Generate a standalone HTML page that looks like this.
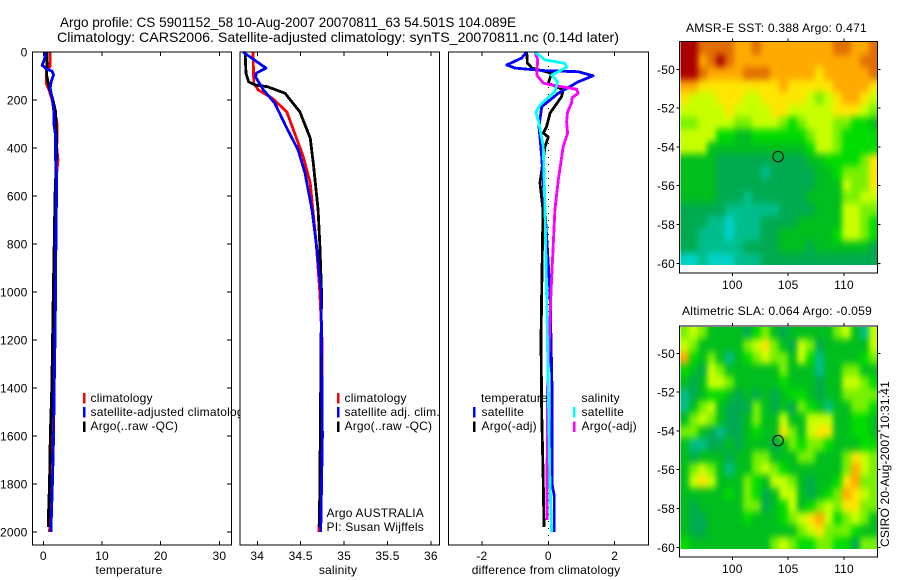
<!DOCTYPE html>
<html lang="en">
<head>
<meta charset="utf-8">
<title>Argo profile</title>
<style>
html,body{margin:0;padding:0;background:#fff}
svg{display:block}
text{font-family:"Liberation Sans",sans-serif;font-size:12px;fill:#000;letter-spacing:.2px}
.title{font-size:14px;letter-spacing:0}
</style>
</head>
<body>
<svg id="chart" xmlns="http://www.w3.org/2000/svg" width="900" height="580" viewBox="0 0 900 580">
<defs>
<filter id="smooth" filterUnits="userSpaceOnUse" x="640" y="0" width="260" height="580" color-interpolation-filters="sRGB">
<feGaussianBlur stdDeviation="2.6 3.6"/>
</filter>
<clipPath id="clip-map-sst"><rect x="680.5" y="42" width="197" height="223"/></clipPath>
<clipPath id="clip-map-sla"><rect x="680.5" y="327" width="197" height="222"/></clipPath>
</defs>
<rect x="0" y="0" width="900" height="580" fill="#fff"/>
<text class="title" x="60" y="27" textLength="456" lengthAdjust="spacingAndGlyphs">Argo profile: CS 5901152_58 10-Aug-2007 20070811_63 54.501S 104.089E</text>
<text class="title" x="57" y="42" textLength="562" lengthAdjust="spacingAndGlyphs">Climatology: CARS2006. Satellite-adjusted climatology: synTS_20070811.nc (0.14d later)</text>
<g id="layer"></g>
<text x="686" y="32" textLength="181" lengthAdjust="spacingAndGlyphs">AMSR-E SST: 0.388 Argo: 0.471</text>
<text x="682" y="315" textLength="190" lengthAdjust="spacingAndGlyphs">Altimetric SLA: 0.064 Argo: -0.059</text>
<text transform="translate(889,547) rotate(-90)" textLength="166" lengthAdjust="spacingAndGlyphs">CSIRO 20-Aug-2007 10:31:41</text>
</svg>
<script>
// ---------- profile data ----------
var tempClimDepth = [0,60,80,130,160,200,250,300,400,450,500,600,800,1000,1400,1600,1800,2000];
var tempClimValue = [1.2,1.15,0.5,0.5,1,1.5,2,2.35,2.3,2.5,2.3,2.25,2.15,2,1.75,1.65,1.5,1.05];
var tempSatDepth = [0,30,55,70,80,95,120,150,190,250,300,350,450,500,600,800,1000,1200,1400,1600,1800,2000];
var tempSatValue = [0.4,0.2,-0.2,0.5,1.5,1.75,1.4,1.15,1.5,1.8,1.8,2.1,2.1,2.25,2.25,2.15,2.1,2,1.85,1.75,1.55,1.3];
var tempArgoDepth = [0,100,150,200,250,300,400,600,800,1000,1400,1600,1800,1950,1980];
var tempArgoValue = [0.65,0.6,1,1.65,2.1,2.2,2.3,2,1.85,1.7,1.45,1.2,1.05,0.85,0.85];

var salClimDepth = [0,130,158,192,249,338,437,546,658,800,1000,1200,1600,2000];
var salClimValue = [33.95,33.96,34.01,34.17,34.34,34.43,34.53,34.61,34.64,34.68,34.72,34.745,34.745,34.71];
var salSatDepth = [0,67,88,104,158,213,317,408,504,658,800,1000,1600,2000];
var salSatValue = [33.835,34.1,33.99,33.98,34.07,34.2,34.34,34.47,34.55,34.63,34.68,34.735,34.75,34.73];
var salArgoDepth = [0,89,124,137,145,172,249,358,463,658,800,1000,1600,1980];
var salArgoValue = [33.86,33.87,33.9,33.97,34.12,34.32,34.49,34.61,34.645,34.7,34.72,34.74,34.726,34.715];

var diffTempSatDepth = [0,25,54,67,78,82,99,124,172,228,311,436,658,1000,1400,1800,1850,2000];
var diffTempSatValue = [-0.65,-0.8,-1.25,-1,-0.1,0.9,1.35,0.9,0.3,-0.2,-0.28,-0.2,-0.1,0.05,0.11,0.11,0.18,0.18];
var diffTempArgoDepth = [0,46,67,88,130,158,186,255,311,338,354,394,546,658,1000,1200,1500,1800,1980];
var diffTempArgoValue = [-0.65,-0.63,-0.49,0.1,0,0.45,0.4,0.05,-0.05,-0.15,0,-0.1,-0.25,-0.16,-0.2,-0.22,-0.2,-0.15,-0.13];
var diffSalSatDepth = [0,33,47,63,82,96,124,165,221,253,283,394,658,1000,1400,1800,2000];
var diffSalSatValue = [-0.4,-0.1,0.5,0.55,0.3,0.1,0.28,0.2,-0.25,-0.38,-0.3,-0.15,-0.1,-0.05,0,0.05,0.1];
var diffSalArgoDepth = [0,33,96,130,145,155,172,190,213,249,290,338,394,533,658,1000,1400,1800,1950];
var diffSalArgoValue = [-0.4,-0.32,-0.35,-0.15,0.4,0.85,0.9,0.72,0.7,0.58,0.55,0.58,0.45,0.3,0.2,0.08,-0.02,-0.04,-0.04];

// ---------- tick labels ----------
var depthTicks = [0,200,400,600,800,1000,1200,1400,1600,1800,2000];
var tempTicks = [0,10,20,30];
var salTicks = [34,34.5,35,35.5,36];
var diffTicks = [-2,0,2];
var lonTicks = [100,105,110];
var latTicks = [-50,-52,-54,-56,-58,-60];

// ---------- map data: colour levels 0 (coldest/lowest) .. 10 (warmest/highest) ----------
var sstLevels = [
[10,10,9,9,9,9,8,8,9,8,8,8,8,8,8,8,8,9,9,8,8,9],
[10,10,8,9,10,9,8,8,8,8,8,8,8,8,8,8,8,8,8,8,9,9],
[10,10,9,8,8,8,8,9,9,9,8,8,8,8,8,7,8,8,8,8,8,9],
[8,8,7,7,7,7,7,7,7,7,7,8,7,7,7,7,7,8,8,8,8,7],
[7,6,6,6,7,7,7,6,6,7,7,7,7,7,6,5,6,7,8,8,7,6],
[6,6,6,6,6,7,6,6,6,6,7,7,6,6,6,6,6,7,7,7,6,5],
[5,5,6,6,6,6,5,5,6,6,6,5,4,5,6,6,6,5,5,4,4,3],
[6,6,6,6,4,4,3,3,4,4,4,4,4,4,5,6,6,5,4,4,4,4],
[6,6,6,3,3,3,3,3,3,3,3,3,3,3,4,6,6,5,4,4,4,4],
[3,3,3,3,2,2,2,2,2,2,2,2,2,2,3,3,4,4,4,4,5,7],
[3,3,3,3,2,2,2,2,2,1,2,2,2,2,2,3,3,4,5,5,5,7],
[3,3,3,3,2,2,2,2,2,2,2,2,2,2,2,3,3,3,6,5,5,7],
[3,3,3,3,2,2,2,1,2,2,2,2,2,2,3,3,3,3,5,5,6,6],
[2,2,2,2,2,1,1,1,1,1,1,2,2,2,2,3,3,3,6,6,5,5],
[2,2,2,1,1,0,1,1,1,2,2,2,2,3,3,3,3,3,6,6,5,4],
[2,2,1,1,1,0,1,1,1,2,2,3,3,3,3,3,3,4,6,6,5,4],
[2,2,1,1,1,1,1,2,2,2,2,3,3,3,2,3,3,3,3,3,3,2],
[0,0,1,0,0,0,1,1,1,2,2,2,2,2,2,2,2,2,2,2,2,2]
];
var slaLevels = [
[5,6,5,3,3,3,3,2,4,5,3,2,3,3,3,3,3,5,6,3,1,6],
[6,5,3,3,3,3,3,5,6,7,5,3,2,6,5,2,3,3,3,3,3,6],
[8,4,3,5,3,1,3,4,5,6,5,5,3,6,4,1,3,3,3,3,4,5],
[4,3,2,6,5,3,3,3,3,3,3,5,3,3,3,1,3,3,5,5,3,3],
[3,2,3,6,6,5,3,3,3,3,3,4,3,3,3,2,3,3,6,6,5,4],
[1,2,3,4,4,3,2,3,2,3,2,3,4,4,3,2,3,3,5,5,5,5],
[1,3,5,6,3,2,2,2,5,3,2,3,2,5,4,3,1,3,3,5,5,4],
[3,5,6,5,3,2,2,3,5,3,3,6,3,3,6,6,6,3,3,4,4,3],
[5,5,3,2,1,2,2,3,4,3,3,7,5,3,6,7,7,3,3,4,4,3],
[3,1,1,2,2,3,2,3,3,3,2,3,5,4,5,5,4,3,3,3,4,4],
[3,2,3,3,3,2,3,3,5,5,3,3,3,5,5,3,3,3,5,7,6,5],
[3,5,6,5,3,1,3,3,5,6,5,4,3,3,3,3,3,3,5,8,6,5],
[3,6,7,6,3,3,3,5,4,3,6,6,5,3,2,3,3,4,7,8,5,5],
[3,3,3,3,3,4,3,5,4,2,3,6,6,3,2,3,4,5,8,7,6,5],
[3,2,3,3,3,3,3,5,5,2,3,4,6,3,4,5,6,5,7,7,5,5],
[3,2,2,3,3,3,3,4,3,3,3,4,5,6,7,8,6,4,5,6,5,3],
[3,2,2,3,3,3,3,3,3,3,3,3,3,5,6,7,5,5,5,4,3,3],
[4,3,3,3,3,3,3,3,3,3,5,6,5,4,4,5,5,4,4,2,5,5]
];
var floatLon = [104.1];
var floatLat = [-54.5];

// ---------- drawing ----------
var NS = 'http://www.w3.org/2000/svg';
var layer = document.getElementById('layer');
var ramp = ['#00d2c8','#00be8c','#00aa50','#00be1e','#00dc00','#78f000','#c8ff00','#ffe600','#ffaa00','#e16e00','#aa0000'];

function make(tag, attrs, parent) {
  var el = document.createElementNS(NS, tag);
  for (var k in attrs) el.setAttribute(k, attrs[k]);
  (parent || layer).appendChild(el);
  return el;
}
function depthY(d) { return 52 + d * 0.24; }

function drawPanel(cfg) {
  var bg = make('rect', {x: cfg.left, y: 52, width: cfg.right - cfg.left, height: 493, fill: '#fff'});
  
  
}

function tickLine(x1, y1, x2, y2, name) {
  var t = make('line', {x1: x1, y1: y1, x2: x2, y2: y2, stroke: '#000', 'stroke-width': 1, 'shape-rendering': 'crispEdges'});
  
  
}
function label(x, y, str, anchor, name) {
  var t = make('text', {x: x, y: y, 'text-anchor': anchor});
  t.textContent = str;
  
  
  return t;
}
function frame(x, y, w, h, name) {
  var f = make('rect', {x: x, y: y, width: w, height: h, fill: 'none', stroke: '#000', 'stroke-width': 1.4, 'shape-rendering': 'crispEdges'});
  
  
}
function series(scale, depths, values, color, name) {
  var pts = depths.map(function (d, i) { return scale(values[i]).toFixed(1) + ',' + depthY(d).toFixed(1); }).join(' ');
  var p = make('polyline', {points: pts, fill: 'none', stroke: color, 'stroke-width': 2.8, 'stroke-linejoin': 'round', 'shape-rendering': 'crispEdges'});
  
  
}
function legendMark(x, y, color, name) {
  var m = make('rect', {x: x, y: y, width: 2.5, height: 10.5, fill: color, 'shape-rendering': 'crispEdges'});
  
  
}

// scales
function xTemp(v) { return 43.3 + v * 5.87; }
function xSal(v) { return 257.3 + (v - 34) * 86.8; }
function xDiff(v) { return 548.3 + v * 33.2; }
function xLon(v) { return 732.3 + (v - 100) * 11.17; }
function ySst(v) { return 69.3 + (-50 - v) * 19.4; }
function ySla(v) { return 353.3 + (-50 - v) * 19.4; }

// Panel 1: temperature
drawPanel({left: 32.5, right: 231.5, name: 'temperature-panel'});
depthTicks.forEach(function (d) {
  tickLine(32.5, depthY(d), 37, depthY(d), 'temperature-depth-tick-left');
  tickLine(227, depthY(d), 231.5, depthY(d), 'temperature-depth-tick-right');
  label(27.5, depthY(d) + 4.5, String(d), 'end', 'depth-tick-label');
});
tempTicks.forEach(function (v) {
  tickLine(xTemp(v), 52, xTemp(v), 56, 'temperature-tick-top');
  tickLine(xTemp(v), 541, xTemp(v), 545, 'temperature-tick-bottom');
  label(xTemp(v), 560, String(v), 'middle', 'temperature-tick-label');
});
series(xTemp, tempClimDepth, tempClimValue, '#ff0000', 'temperature-climatology-line');
series(xTemp, tempArgoDepth, tempArgoValue, '#000000', 'temperature-argo-line');
series(xTemp, tempSatDepth, tempSatValue, '#0000ff', 'temperature-satellite-line');
legendMark(83, 393, '#ff0000', 'temperature-legend-climatology-mark');
legendMark(83, 407, '#0000ff', 'temperature-legend-satellite-mark');
legendMark(83, 421.5, '#000000', 'temperature-legend-argo-mark');
label(90.5, 402, 'climatology', 'start', 'temperature-legend-climatology');
label(90.5, 416, 'satellite-adjusted climatology', 'start', 'temperature-legend-satellite');
label(90.5, 430, 'Argo(..raw -QC)', 'start', 'temperature-legend-argo');
frame(32.5, 52, 199, 493, 'temperature-panel-frame');
label(129, 574, 'temperature', 'middle', 'temperature-axis-title');

// Panel 2: salinity
drawPanel({left: 240, right: 439.5, name: 'salinity-panel'});
salTicks.forEach(function (v) {
  tickLine(xSal(v), 52, xSal(v), 56, 'salinity-tick-top');
  tickLine(xSal(v), 541, xSal(v), 545, 'salinity-tick-bottom');
  label(xSal(v), 560, String(v), 'middle', 'salinity-tick-label');
});
series(xSal, salClimDepth, salClimValue, '#ff0000', 'salinity-climatology-line');
series(xSal, salArgoDepth, salArgoValue, '#000000', 'salinity-argo-line');
series(xSal, salSatDepth, salSatValue, '#0000ff', 'salinity-satellite-line');
legendMark(337, 393, '#ff0000', 'salinity-legend-climatology-mark');
legendMark(337, 407, '#0000ff', 'salinity-legend-satellite-mark');
legendMark(337, 421.5, '#000000', 'salinity-legend-argo-mark');
label(344.5, 402, 'climatology', 'start', 'salinity-legend-climatology');
label(344.5, 416, 'satellite adj. clim.', 'start', 'salinity-legend-satellite');
label(344.5, 430, 'Argo(..raw -QC)', 'start', 'salinity-legend-argo');
label(326.5, 517, 'Argo AUSTRALIA', 'start', 'argo-program-label');
label(326.5, 531, 'PI: Susan Wijffels', 'start', 'principal-investigator-label');
frame(240, 52, 199.5, 493, 'salinity-panel-frame');
label(338, 574, 'salinity', 'middle', 'salinity-axis-title');

// Panel 3: differences
drawPanel({left: 448.5, right: 648.5, name: 'difference-panel'});
diffTicks.forEach(function (v) {
  tickLine(xDiff(v), 52, xDiff(v), 56, 'difference-tick-top');
  tickLine(xDiff(v), 541, xDiff(v), 545, 'difference-tick-bottom');
  label(xDiff(v), 560, String(v), 'middle', 'difference-tick-label');
});
var zero = make('line', {x1: xDiff(0), y1: 52, x2: xDiff(0), y2: 545, stroke: '#000', 'stroke-width': 1, 'stroke-dasharray': '1 6', 'shape-rendering': 'crispEdges'});


series(xDiff, diffTempArgoDepth, diffTempArgoValue, '#000000', 'difference-temperature-argo-line');
series(xDiff, diffTempSatDepth, diffTempSatValue, '#0000ff', 'difference-temperature-satellite-line');
series(xDiff, diffSalArgoDepth, diffSalArgoValue, '#ff00ff', 'difference-salinity-argo-line');
series(xDiff, diffSalSatDepth, diffSalSatValue, '#00ffff', 'difference-salinity-satellite-line');
legendMark(473, 407, '#0000ff', 'difference-legend-temperature-satellite-mark');
legendMark(473, 421.5, '#000000', 'difference-legend-temperature-argo-mark');
legendMark(573, 407, '#00ffff', 'difference-legend-salinity-satellite-mark');
legendMark(573, 421.5, '#ff00ff', 'difference-legend-salinity-argo-mark');
label(481, 402, 'temperature', 'start', 'difference-legend-temperature-heading');
label(481.5, 416, 'satellite', 'start', 'difference-legend-temperature-satellite');
label(481.5, 430, 'Argo(-adj)', 'start', 'difference-legend-temperature-argo');
label(581.5, 402, 'salinity', 'start', 'difference-legend-salinity-heading');
label(581.5, 416, 'satellite', 'start', 'difference-legend-salinity-satellite');
label(581.5, 430, 'Argo(-adj)', 'start', 'difference-legend-salinity-argo');
frame(448.5, 52, 200, 493, 'difference-panel-frame');
label(546, 574, 'difference from climatology', 'middle', 'difference-axis-title');

// Maps
function drawMap(levels, yOf, top, bottom, name) {
  var left = 680.5, right = 877.5;
  var dataTop = top + 1, dataBottom = yOf(-60) + 2;
  var cols = levels[0].length, rows = levels.length;
  var cw = (right - left) / cols, ch = (dataBottom - dataTop) / rows;
  var clipGroup = make('g', {'clip-path': 'url(#clip-' + name + ')'});
  
  
  var blurGroup = make('g', {filter: 'url(#smooth)'}, clipGroup);
  
  
  levels.forEach(function (row, r) {
    row.forEach(function (v, c) {
      var x0 = Math.round(left + c * cw), x1 = Math.round(left + (c + 1) * cw);
      var y0 = Math.round(dataTop + r * ch), y1 = Math.round(dataTop + (r + 1) * ch);
      if (c === 0) x0 -= 14;
      if (c === cols - 1) x1 += 14;
      if (r === 0) y0 -= 14;
      if (r === rows - 1) y1 += 14;
      var cell = make('rect', {x: x0, y: y0, width: x1 - x0, height: y1 - y0, fill: ramp[v], 'shape-rendering': 'crispEdges'}, blurGroup);
      
      
    });
  });
  frame(679.5, top, 198, bottom - top, name + '-frame');
  lonTicks.forEach(function (v) {
    tickLine(xLon(v), top - 3, xLon(v), top, name + '-lon-tick-top');
    tickLine(xLon(v), bottom, xLon(v), bottom + 3, name + '-lon-tick-bottom');
    label(xLon(v), bottom + 16, String(v), 'middle', name + '-lon-label');
  });
  latTicks.forEach(function (v) {
    tickLine(676.5, yOf(v), 679.5, yOf(v), name + '-lat-tick-left');
    tickLine(877.5, yOf(v), 880.5, yOf(v), name + '-lat-tick-right');
    label(675, yOf(v) + 4.5, String(v), 'end', name + '-lat-label');
  });
  floatLon.forEach(function (lon, i) {
    var c = make('circle', {cx: xLon(lon), cy: yOf(floatLat[i]), r: 5.2, fill: 'none', stroke: '#000', 'stroke-width': 1});
    
    
  });
}
drawMap(sstLevels, ySst, 41.5, 273, 'map-sst');
drawMap(slaLevels, ySla, 326, 557, 'map-sla');
</script>
</body>
</html>
